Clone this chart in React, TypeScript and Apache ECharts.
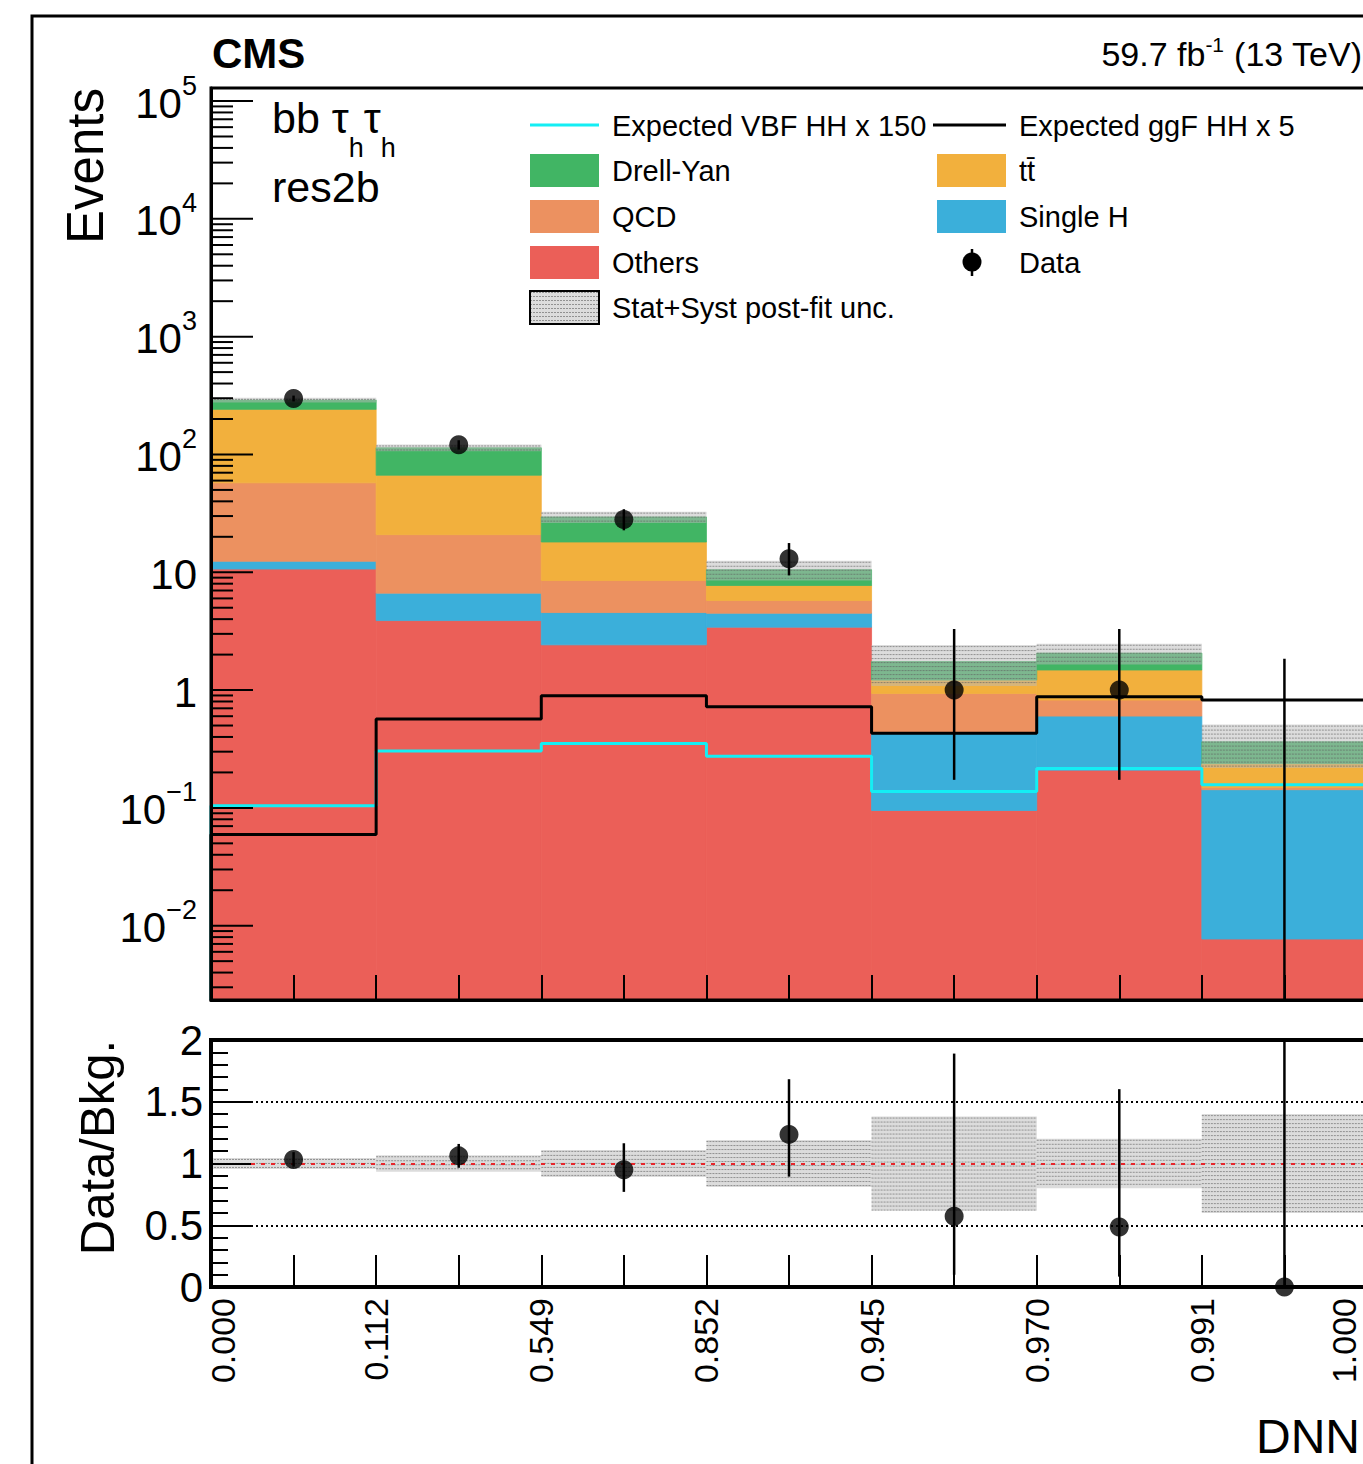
import React, { useEffect, useRef } from 'react';
import * as echarts from 'echarts';

// ---- data ----
const binEdgeLabels = ['0.000', '0.112', '0.549', '0.852', '0.945', '0.970', '0.991', '1.000'];
const othersBkg = [10.65, 3.89, 2.42, 3.42, 0.095, 0.209, 0.0077];
const singleH = [1.75, 2.76, 2.13, 1.07, 0.333, 0.392, 0.135];
const qcd = [45, 14.2, 3.96, 1.26, 0.509, 0.221, 0.006];
const ttbar = [184, 45.8, 9.56, 1.97, 0.279, 0.658, 0.089];
const drellYan = [48, 47.3, 11.4, 2.8, 0.53, 0.58, 0.126];
const ggfHH = [0.0595, 0.567, 0.894, 0.721, 0.43, 0.877, 0.822];
const vbfHH = [0.104, 0.304, 0.352, 0.274, 0.138, 0.216, 0.157];
const dataCounts = [299, 121, 28, 13, 1, 1, 0];
const dataLow = [282, 110, 22.7, 9.4, 0.173, 0.173, 0];
const dataHigh = [316, 132, 34.3, 17.7, 3.3, 3.3, 1.84];
const uncRel = [0.045, 0.067, 0.11, 0.19, 0.38, 0.2, 0.4];
const yDecadeExponents = [-2, -1, 0, 1, 2, 3, 4, 5];
const ratioRefLines = [0.5, 1.5];
const ratioUnity = 1;

const Y_MIN = 0.00234;
const Y_MAX = 1.29e5;
const NBINS = 7;

const FF = '"Liberation Sans", Arial, Helvetica, sans-serif';
const COL = {
  dy: '#41b564',
  tt: '#f2b03d',
  qcd: '#ec9160',
  sh: '#3bafda',
  oth: '#eb5f58',
  vbf: '#14eef4',
  ggf: '#000000',
};

const GRID_LEFT = 211;
const GRID_W = 1156;
const TOP1 = 88;
const H1 = 912;
const TOP2 = 1040;
const H2 = 247;

function hatch(x: number, y: number, w: number, h: number) {
  const children: any[] = [
    { type: 'rect', shape: { x, y, width: w, height: h }, style: { fill: 'rgba(185,185,185,0.5)' } },
  ];
  for (let yy = y + 1.5; yy < y + h; yy += 4) {
    children.push({
      type: 'line',
      shape: { x1: x, y1: yy, x2: x + w, y2: yy },
      style: { stroke: 'rgba(95,95,95,0.6)', lineWidth: 1, lineDash: [2, 1] },
    });
  }
  return { type: 'group', children };
}

export default function App() {
  const ref = useRef<HTMLDivElement>(null);

  useEffect(() => {
    document.body.style.margin = '0';
    if (!ref.current) return;
    const chart = echarts.init(ref.current, undefined, { renderer: 'svg' });

    const stackDefs = [
      { name: 'Others', vals: othersBkg, color: COL.oth },
      { name: 'Single H', vals: singleH, color: COL.sh },
      { name: 'QCD', vals: qcd, color: COL.qcd },
      { name: 'tt̄', vals: ttbar, color: COL.tt },
      { name: 'Drell-Yan', vals: drellYan, color: COL.dy },
    ];
    const cum = new Array(NBINS).fill(0);
    const stackSeries: any[] = stackDefs.map((d) => {
      const items = d.vals.map((v, i) => {
        const lo = cum[i] > 0 ? cum[i] : Y_MIN;
        cum[i] += v;
        return [i, lo, cum[i]];
      });
      return {
        type: 'custom',
        name: d.name,
        xAxisIndex: 0,
        yAxisIndex: 0,
        clip: true,
        z: 2,
        data: items,
        renderItem: (_p: any, api: any) => {
          const i = api.value(0);
          const lo = Math.max(api.value(1), Y_MIN);
          const hi = api.value(2);
          const p0 = api.coord([i, hi]);
          const p1 = api.coord([i + 1, lo]);
          return {
            type: 'rect',
            shape: { x: p0[0], y: p0[1], width: p1[0] - p0[0], height: p1[1] - p0[1] },
            style: { fill: d.color, stroke: d.color, lineWidth: 0.8 },
          };
        },
      };
    });
    const totals = cum.slice();

    const uncUpper = totals.map((t, i) => [i, t * (1 - uncRel[i]), t * (1 + uncRel[i])]);
    const uncRatio = uncRel.map((u, i) => [i, 1 - u, 1 + u]);

    const bandRender = (_p: any, api: any) => {
      const i = api.value(0);
      const p0 = api.coord([i, api.value(2)]);
      const p1 = api.coord([i + 1, api.value(1)]);
      return hatch(p0[0], p0[1], p1[0] - p0[0], p1[1] - p0[1]);
    };

    const stepData = (vals: number[]) => {
      const pts: any[] = [[0, Y_MIN]];
      vals.forEach((v, i) => pts.push([i, v]));
      pts.push([NBINS, vals[NBINS - 1]]);
      return pts;
    };

    const errRender = (_p: any, api: any) => {
      const x = api.value(0);
      const lo = api.value(1);
      const hi = api.value(2);
      const p0 = api.coord([x, hi]);
      const p1 = api.coord([x, lo]);
      return {
        type: 'line',
        shape: { x1: p0[0], y1: p0[1], x2: p1[0], y2: p1[1] },
        style: { stroke: '#000', lineWidth: 2.5 },
      };
    };

    const upperErr = dataCounts.map((_c, i) => [i + 0.5, Math.max(dataLow[i], Y_MIN), dataHigh[i]]);
    const upperPts = dataCounts.map((c, i) => [i + 0.5, c > 0 ? c : '-']);
    const ratioPts = dataCounts.map((c, i) => [i + 0.5, c / totals[i]]);
    const ratioErr = dataCounts.map((_c, i) => [i + 0.5, dataLow[i] / totals[i], dataHigh[i] / totals[i]]);

    const yTickItems: number[][] = [];
    for (let k = -3; k <= 5; k++) {
      for (let m = 1; m <= 9; m++) {
        const v = m * Math.pow(10, k);
        if (v >= Y_MIN && v <= Y_MAX) yTickItems.push([0, v, m === 1 ? 1 : 0]);
      }
    }
    const yLabelItems = yDecadeExponents.map((k) => [0, Math.pow(10, k), k]);

    const legendFont = 29;
    const legendRows = [125, 170, 216, 262, 307];
    const colSym = [530, 937];
    const colTxt = [612, 1019];
    const legendEntries = [
      { col: 0, row: 0, kind: 'line', color: COL.vbf, label: 'Expected VBF HH x 150' },
      { col: 1, row: 0, kind: 'line', color: COL.ggf, label: 'Expected ggF HH x 5' },
      { col: 0, row: 1, kind: 'box', color: COL.dy, label: 'Drell-Yan' },
      { col: 1, row: 1, kind: 'box', color: COL.tt, label: 'tt\u0304' },
      { col: 0, row: 2, kind: 'box', color: COL.qcd, label: 'QCD' },
      { col: 1, row: 2, kind: 'box', color: COL.sh, label: 'Single H' },
      { col: 0, row: 3, kind: 'box', color: COL.oth, label: 'Others' },
      { col: 1, row: 3, kind: 'data', color: '#000', label: 'Data' },
      { col: 0, row: 4, kind: 'hatch', color: '#000', label: 'Stat+Syst post-fit unc.' },
    ];
    const legendEls: any[] = [];
    legendEntries.forEach((e) => {
      const y = legendRows[e.row];
      const x = colSym[e.col];
      if (e.kind === 'line') {
        const x1 = e.col === 1 ? 933 : x;
        legendEls.push({ type: 'line', shape: { x1, y1: y, x2: x + 69, y2: y }, style: { stroke: e.color, lineWidth: 3 } });
      } else if (e.kind === 'box') {
        legendEls.push({ type: 'rect', shape: { x, y: y - 16, width: 69, height: 33 }, style: { fill: e.color } });
      } else if (e.kind === 'data') {
        legendEls.push({ type: 'line', shape: { x1: x + 35, y1: y - 13, x2: x + 35, y2: y + 14 }, style: { stroke: '#000', lineWidth: 2.5 } });
        legendEls.push({ type: 'circle', shape: { cx: x + 35, cy: y, r: 9.5 }, style: { fill: '#000' } });
      } else {
        const h: any = hatch(x, y - 16, 69, 33);
        legendEls.push(h);
        legendEls.push({ type: 'rect', shape: { x, y: y - 16, width: 69, height: 33 }, style: { fill: 'transparent', stroke: '#000', lineWidth: 2 } });
      }
      legendEls.push({
        type: 'text',
        x: colTxt[e.col],
        y: y + 1,
        style: { text: e.label, fontSize: legendFont, fontFamily: FF, fill: '#000', align: 'left', verticalAlign: 'middle' },
      });
    });

    const option: any = {
      animation: false,
      backgroundColor: '#ffffff',
      grid: [
        { left: GRID_LEFT, top: TOP1, width: GRID_W, height: H1, show: true, borderColor: '#000', borderWidth: 3, backgroundColor: 'transparent', z: 10, containLabel: false, outerBoundsMode: 'none' },
        { left: GRID_LEFT, top: TOP2, width: GRID_W, height: H2, show: true, borderColor: '#000', borderWidth: 4, backgroundColor: 'transparent', z: 10, containLabel: false, outerBoundsMode: 'none' },
      ],
      xAxis: [
        {
          type: 'value', gridIndex: 0, min: 0, max: NBINS, interval: 0.5, z: 10,
          axisLine: { show: true, lineStyle: { color: '#000', width: 3 } },
          axisTick: { show: true, inside: true, length: 25, lineStyle: { color: '#000', width: 2 } },
          axisLabel: { show: false },
          splitLine: { show: false },
        },
        {
          type: 'value', gridIndex: 1, min: 0, max: NBINS, interval: 0.5, z: 10,
          axisLine: { show: true, lineStyle: { color: '#000', width: 4 } },
          axisTick: { show: true, inside: true, length: 32, lineStyle: { color: '#000', width: 2 } },
          axisLabel: {
            show: true, rotate: 90, margin: 11, fontSize: 34, fontFamily: FF, color: '#000',
            showMinLabel: true, showMaxLabel: true,
            formatter: (v: number) => {
              if (Math.abs(v - Math.round(v)) > 1e-6) return '';
              const i = Math.round(v);
              if (i === 0) return `{f|${binEdgeLabels[i]}}`;
              if (i === NBINS) return `{l|${binEdgeLabels[i]}}`;
              return binEdgeLabels[i];
            },
            rich: {
              f: { fontSize: 34, fontFamily: FF, color: '#000', padding: [24, 0, 0, 0] },
              l: { fontSize: 34, fontFamily: FF, color: '#000', padding: [0, 0, 46, 0] },
            },
          },
          splitLine: { show: false },
        },
      ],
      yAxis: [
        {
          type: 'log', gridIndex: 0, min: Y_MIN, max: Y_MAX, logBase: 10, z: 10,
          axisLine: { show: true, lineStyle: { color: '#000', width: 3 } },
          axisTick: { show: false },
          axisLabel: { show: false },
          splitLine: { show: false },
        },
        {
          type: 'value', gridIndex: 1, min: 0, max: 2, interval: 0.5, z: 10,
          axisLine: { show: true, lineStyle: { color: '#000', width: 4 } },
          axisTick: { show: true, inside: true, length: 40, lineStyle: { color: '#000', width: 2 } },
          minorTick: { show: true, splitNumber: 5, length: 17, lineStyle: { color: '#000', width: 2 } },
          axisLabel: { show: true, fontSize: 42, fontFamily: FF, color: '#000', margin: 8 },
          splitLine: { show: false },
        },
      ],
      series: [
        ...stackSeries,
        { type: 'custom', name: 'unc', xAxisIndex: 0, yAxisIndex: 0, clip: true, z: 3, data: uncUpper, renderItem: bandRender },
        {
          type: 'line', name: 'VBF', xAxisIndex: 0, yAxisIndex: 0, step: 'end', symbol: 'none', z: 4,
          lineStyle: { color: COL.vbf, width: 3 }, data: stepData(vbfHH),
        },
        {
          type: 'line', name: 'ggF', xAxisIndex: 0, yAxisIndex: 0, step: 'end', symbol: 'none', z: 4,
          lineStyle: { color: COL.ggf, width: 3 }, data: stepData(ggfHH),
        },
        { type: 'custom', name: 'dataErr', xAxisIndex: 0, yAxisIndex: 0, clip: true, z: 5, data: upperErr, renderItem: errRender },
        {
          type: 'scatter', name: 'Data', xAxisIndex: 0, yAxisIndex: 0, symbol: 'circle', symbolSize: 19, z: 6,
          itemStyle: { color: '#000' }, data: upperPts,
        },
        { type: 'custom', name: 'ratioUnc', xAxisIndex: 1, yAxisIndex: 1, clip: true, z: 2, data: uncRatio, renderItem: bandRender },
        { type: 'custom', name: 'ratioErr', xAxisIndex: 1, yAxisIndex: 1, clip: true, z: 5, data: ratioErr, renderItem: errRender },
        {
          type: 'scatter', name: 'Ratio', xAxisIndex: 1, yAxisIndex: 1, symbol: 'circle', symbolSize: 19, z: 6, clip: false,
          itemStyle: { color: '#000' }, data: ratioPts,
          markLine: {
            silent: true, symbol: ['none', 'none'], label: { show: false }, animation: false,
            data: [
              ...ratioRefLines.map((v) => ({ yAxis: v, lineStyle: { color: '#000', type: [2, 3], width: 2 } })),
              { yAxis: ratioUnity, lineStyle: { color: '#e8262b', type: [4, 6], width: 2 } },
            ],
          },
        },
        {
          type: 'custom', name: 'yTicks', xAxisIndex: 0, yAxisIndex: 0, clip: false, z: 10, data: yTickItems,
          renderItem: (_p: any, api: any) => {
            const p = api.coord([0, api.value(1)]);
            const len = api.value(2) === 1 ? 42 : 22;
            return { type: 'line', shape: { x1: p[0], y1: p[1], x2: p[0] + len, y2: p[1] }, style: { stroke: '#000', lineWidth: 2 } };
          },
        },
        {
          type: 'custom', name: 'yLabels', xAxisIndex: 0, yAxisIndex: 0, clip: false, z: 10, data: yLabelItems,
          renderItem: (_p: any, api: any) => {
            const p = api.coord([0, api.value(1)]);
            const k = api.value(2);
            const text = k === 0 ? '1' : k === 1 ? '10' : `{b|10}{s|${k < 0 ? '\u2212' : ''}${Math.abs(k)}}`;
            return {
              type: 'text',
              x: 197,
              y: p[1] + 2,
              style: {
                text, fontSize: 42, fontFamily: FF, fill: '#000', align: 'right', verticalAlign: 'middle',
                rich: {
                  b: { fontSize: 42, fontFamily: FF, lineHeight: 62, fill: '#000' },
                  s: { fontSize: 27, fontFamily: FF, lineHeight: 27, verticalAlign: 'top', fill: '#000' },
                },
              },
            };
          },
        },
      ],
      graphic: [
        { type: 'rect', shape: { x: 32, y: 16, width: 1400, height: 1500 }, style: { fill: 'transparent', stroke: '#000', lineWidth: 3 }, silent: true },
        { type: 'text', x: 212, y: 53, style: { text: 'CMS', fontSize: 42, fontWeight: 'bold', fontFamily: FF, fill: '#000', verticalAlign: 'middle' } },
        {
          type: 'text', x: 1362, y: 54,
          style: {
            text: '{a|59.7 fb}{s|-1}{a| (13 TeV)}', align: 'right', verticalAlign: 'middle', fill: '#000', fontFamily: FF, fontSize: 34,
            rich: {
              a: { fontSize: 34, fontFamily: FF, lineHeight: 40, fill: '#000' },
              s: { fontSize: 21, fontFamily: FF, lineHeight: 21, verticalAlign: 'top', fill: '#000' },
            },
          },
        },
        {
          type: 'text', x: 272, y: 118,
          style: {
            text: '{a|bb \u03c4}{s|h}{a|\u03c4}{s|h}', align: 'left', verticalAlign: 'middle', fill: '#000', fontFamily: FF, fontSize: 43,
            rich: {
              a: { fontSize: 43, fontFamily: FF, lineHeight: 86, fill: '#000' },
              s: { fontSize: 27, fontFamily: FF, lineHeight: 27, verticalAlign: 'bottom', fill: '#000' },
            },
          },
        },
        { type: 'text', x: 272, y: 187, style: { text: 'res2b', fontSize: 43, fontFamily: FF, fill: '#000', verticalAlign: 'middle' } },
        { type: 'text', x: 85, y: 88, rotation: Math.PI / 2, style: { text: 'Events', fontSize: 51, fontFamily: FF, fill: '#000', align: 'right', verticalAlign: 'middle' } },
        { type: 'text', x: 97, y: 1040, rotation: Math.PI / 2, style: { text: 'Data/Bkg.', fontSize: 49, fontFamily: FF, fill: '#000', align: 'right', verticalAlign: 'middle' } },
        { type: 'text', x: 1256, y: 1436, style: { text: 'DNN', fontSize: 48, fontFamily: FF, fill: '#000', align: 'left', verticalAlign: 'middle' } },
        ...legendEls,
      ],
    };

    chart.setOption(option);
    return () => chart.dispose();
  }, []);

  return <div ref={ref} style={{ width: 1363, height: 1464 }} />;
}
